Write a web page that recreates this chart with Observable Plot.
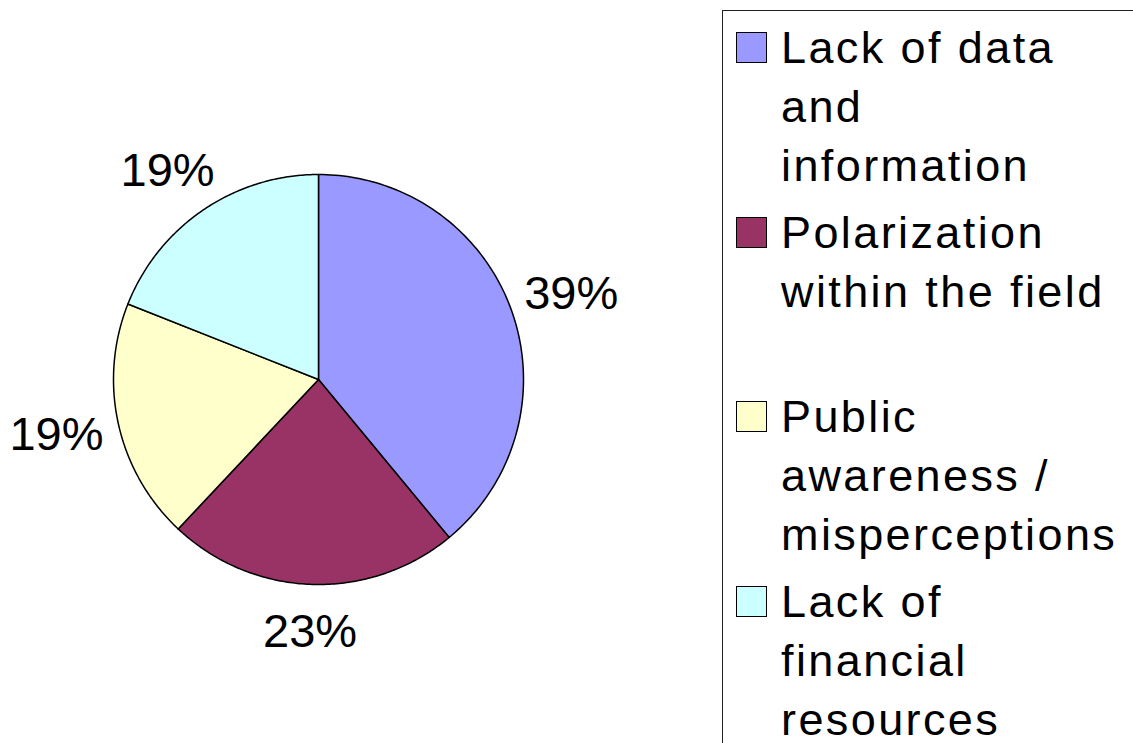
<!DOCTYPE html>
<html>
<head>
<meta charset="utf-8">
<script src="https://cdn.jsdelivr.net/npm/d3@7"></script>
<script src="https://cdn.jsdelivr.net/npm/@observablehq/plot@0.6"></script>
<style>
  html, body { margin: 0; padding: 0; background: #fff; }
  #wrap { position: relative; width: 1133px; height: 743px; overflow: hidden; font-family: "Liberation Sans", Arial, sans-serif; }
  #legend { position: absolute; left: 722px; top: 10px; width: 520px; height: 800px;
            border-left: 1.5px solid #222; border-top: 1.5px solid #222; box-sizing: border-box; padding-top: 7px; }
  .item { position: relative; height: 184.7px; }
  .sw { position: absolute; left: 13px; top: 14px; width: 29px; height: 29px; border: 1.5px solid #000; }
  .txt { padding-left: 58px; font-size: 45px; line-height: 59px; letter-spacing: 2.4px; white-space: pre; color: #000; }
</style>
</head>
<body>
<div id="wrap"><div id="chart"></div><div id="legend"></div></div>
<script>
const categories = ["Lack of data and information", "Polarization within the field", "Public awareness / misperceptions", "Lack of financial resources"];
const legendLines = ["Lack of data\nand\ninformation", "Polarization\nwithin the field", "Public\nawareness /\nmisperceptions", "Lack of\nfinancial\nresources"];
const values = [39, 23, 19, 19];
const labels = ["39%", "23%", "19%", "19%"];
const colors = ["#9999FF", "#993366", "#FFFFCC", "#CCFFFF"];

const arcs = d3.pie().sort(null).value(d => d)(values);
const pts = [];
arcs.forEach((a, i) => {
  pts.push({cat: categories[i], x: 0, y: 0});
  const n = 120;
  for (let k = 0; k <= n; k++) {
    const t = a.startAngle + (a.endAngle - a.startAngle) * k / n;
    pts.push({cat: categories[i], x: Math.sin(t), y: Math.cos(t)});
  }
});
const labelRx = 1.31, labelRy = 1.23;
const labelData = arcs.map((a, i) => {
  const m = (a.startAngle + a.endAngle) / 2;
  return {x: labelRx * Math.sin(m), y: labelRy * Math.cos(m), text: labels[i]};
});

const chart = Plot.plot({
  width: 1133, height: 743,
  margin: 0,
  style: {fontFamily: '"Liberation Sans", Arial, sans-serif', background: "transparent"},
  x: {domain: [-1, 1], range: [113, 523], axis: null},
  y: {domain: [-1, 1], range: [584, 174], axis: null},
  color: {domain: categories, range: colors},
  marks: [
    Plot.line(pts, {x: "x", y: "y", z: "cat", fill: "cat", stroke: "#000", strokeWidth: 1.5, curve: "linear-closed"}),
    Plot.text(labelData, {x: "x", y: "y", text: "text", fontSize: 47, fill: "#000"})
  ]
});
document.getElementById("chart").appendChild(chart);

const legend = document.getElementById("legend");
categories.forEach((c, i) => {
  const item = document.createElement("div");
  item.className = "item";
  const sw = document.createElement("div");
  sw.className = "sw";
  sw.style.background = colors[i];
  const txt = document.createElement("div");
  txt.className = "txt";
  txt.textContent = legendLines[i];
  item.appendChild(sw);
  item.appendChild(txt);
  legend.appendChild(item);
});
</script>
</body>
</html>
